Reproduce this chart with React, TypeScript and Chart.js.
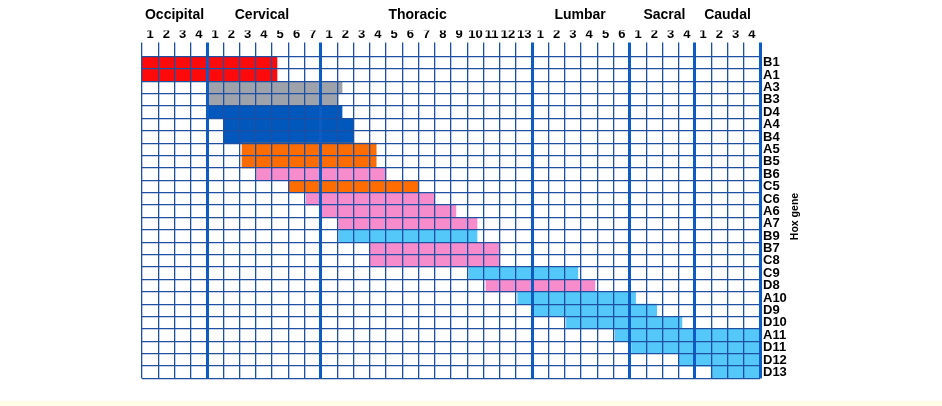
import React, { useEffect, useRef } from "react";
import { Chart, registerables } from "chart.js";

Chart.register(...registerables);

const genes = ["B1", "A1", "A3", "B3", "D4", "A4", "B4", "A5", "B5", "B6", "C5", "C6", "A6", "A7", "B9", "B7", "C8", "C9", "D8", "A10", "D9", "D10", "A11", "D11", "D12", "D13"];
const spanStart = [0, 0, 4, 4, 4, 5, 5, 6.15, 6.15, 7.05, 9.05, 10.1, 11, 12.1, 12.1, 14, 14, 20.1, 21.15, 23.1, 24, 26.1, 29.1, 30.1, 33, 35];
const spanEnd = [8.3, 8.3, 12.3, 12.05, 12.3, 13, 13, 14.4, 14.4, 15, 17, 18, 19.3, 20.6, 20.6, 22, 22, 26.8, 27.85, 30.35, 31.65, 33.2, 38, 38, 38, 38];
const spanGroup = ["red", "red", "gray", "gray", "blue", "blue", "blue", "orange", "orange", "pink", "orange", "pink", "pink", "pink", "sky", "pink", "pink", "sky", "pink", "sky", "sky", "sky", "sky", "sky", "sky", "sky"];
const regions = ["Occipital", "Cervical", "Thoracic", "Lumbar", "Sacral", "Caudal"];
const regionSizes = [4, 7, 13, 6, 4, 4];

const groupColors: Record<string, string> = {
  red: "#ff0a0a",
  gray: "#9ea2aa",
  blue: "#0058bc",
  orange: "#ff6c00",
  pink: "#f78ccc",
  sky: "#55c8fa",
};

const FONT = '"Liberation Sans", Arial, Helvetica, sans-serif';
const THIN = "#1f4fa0";
const THICK = "#0c5cc4";
// small pixel nudges for the region headings, to match the original layout
const HEADING_NUDGE = [0, -2, -9, -1, 2, 0];

const colLabels: string[] = [];
const boundaries: number[] = [];
{
  let c = 0;
  regionSizes.forEach((n) => {
    for (let i = 1; i <= n; i++) colLabels.push(String(i));
    c += n;
    boundaries.push(c);
  });
}
const totalCols = colLabels.length;

const overlay = {
  id: "overlay",
  afterDraw(chart: any) {
    const ctx = chart.ctx;
    const xs = chart.scales.x;
    const ys = chart.scales.y;
    ctx.save();
    ctx.fillStyle = "#000";
    ctx.font = `bold 14px ${FONT}`;
    ctx.textAlign = "center";
    ctx.textBaseline = "middle";
    let c = 0;
    regions.forEach((r, i) => {
      const mid = c + regionSizes[i] / 2;
      ctx.fillText(r, xs.getPixelForValue(mid) + HEADING_NUDGE[i], 15);
      c += regionSizes[i];
    });
    ctx.translate(ys.left + 35, (ys.top + ys.bottom) / 2 - 1);
    ctx.rotate(-Math.PI / 2);
    ctx.font = `bold 10.5px ${FONT}`;
    ctx.fillText("Hox gene", 0, 0);
    ctx.restore();
  },
};

export default function App() {
  const ref = useRef<HTMLCanvasElement | null>(null);

  useEffect(() => {
    document.body.style.margin = "0";
    if (!ref.current) return;
    const isThick = (ctx: any) => {
      const i = ctx.index === undefined ? totalCols : ctx.index;
      return boundaries.includes(i);
    };
    const chart = new Chart(ref.current, {
      type: "bar",
      data: {
        labels: genes,
        datasets: [
          {
            data: genes.map((_, i) => [spanStart[i], spanEnd[i]]) as any,
            backgroundColor: spanGroup.map((g) => groupColors[g]),
            borderWidth: 0,
            borderSkipped: false,
            barPercentage: 1,
            categoryPercentage: 1,
          },
        ],
      },
      options: {
        indexAxis: "y",
        animation: false,
        responsive: false,
        devicePixelRatio: 1,
        layout: { padding: { left: 142, right: 122, top: 30.5, bottom: 27.5 } },
        plugins: { legend: { display: false }, tooltip: { enabled: false } },
        scales: {
          x: { type: "linear", min: 0, max: totalCols, display: false },
          xTop: {
            type: "category",
            labels: colLabels,
            position: "top",
            offset: true,
            grid: {
              offset: true,
              z: 1,
              drawTicks: true,
              tickLength: 14,
              color: (ctx: any) => (isThick(ctx) ? THICK : THIN),
              lineWidth: (ctx: any) => (isThick(ctx) ? 3 : 1.3),
            },
            border: { display: false },
            ticks: {
              color: "#000",
              font: { family: FONT, size: 13, weight: "bold" },
              padding: 0,
              maxRotation: 0,
              minRotation: 0,
              autoSkip: false,
            },
            afterFit: (s: any) => {
              s.height = 26;
            },
          } as any,
          y: {
            type: "category",
            position: "right",
            offset: true,
            grid: {
              offset: true,
              z: 1,
              drawTicks: false,
              color: THIN,
              lineWidth: 1.3,
            },
            border: { display: false },
            ticks: {
              color: "#000",
              font: { family: FONT, size: 13, weight: "bold" },
              padding: 3,
              autoSkip: false,
            },
            afterFit: (s: any) => {
              s.width = 60;
            },
          } as any,
        },
      },
      plugins: [overlay],
    });
    return () => chart.destroy();
  }, []);

  return (
    <div style={{ position: "relative", width: 942, height: 406, background: "#ffffff", overflow: "hidden" }}>
      <div style={{ position: "absolute", left: 0, top: 401, width: 942, height: 5, background: "#fdfde6" }} />
      <canvas ref={ref} width={942} height={406} style={{ position: "absolute", left: 0, top: 0 }} />
    </div>
  );
}
